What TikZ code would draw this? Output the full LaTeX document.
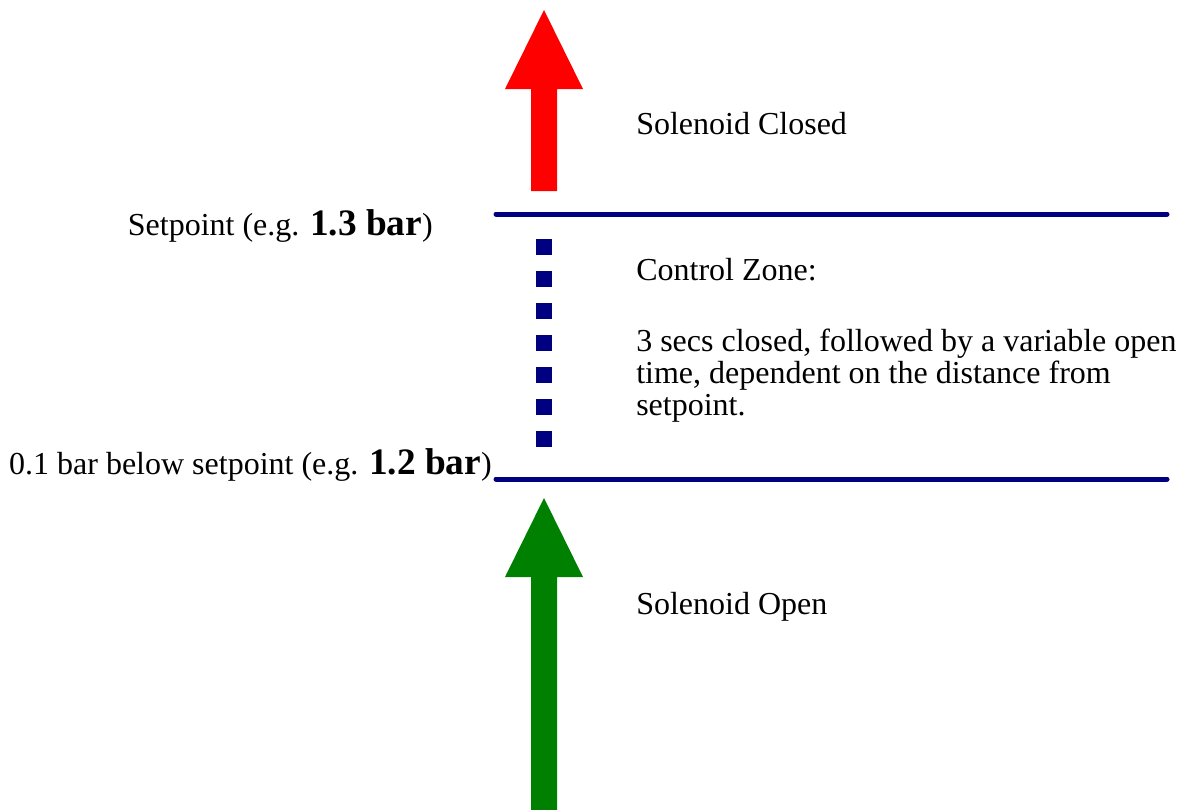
\documentclass[tikz,border=0pt]{standalone}
\usepackage{fontspec}
\setmainfont{Liberation Serif}
\definecolor{navyc}{RGB}{0,0,128}
\definecolor{redc}{RGB}{255,0,0}
\definecolor{greenc}{RGB}{0,128,0}
\begin{document}
\begin{tikzpicture}[x=0.75pt,y=-0.75pt,
  lab/.style={inner sep=0pt, font=\fontsize{24}{24}\selectfont},
  big/.style={},
  level/.style={draw=navyc, line width=3.75pt, line cap=round},
  sq/.style={fill=navyc}]
\useasboundingbox (0,0) rectangle (1185,810);
% red arrow
\fill[redc] (531,191) -- (531,89) -- (505,89) -- (544,10) -- (583,89) -- (557,89) -- (557,191) -- cycle;
% green arrow
\fill[greenc] (531,810) -- (531,577) -- (505,577) -- (544,498) -- (583,577) -- (557,577) -- (557,810) -- cycle;
% level lines
\coordinate (s1) at (496,214); \coordinate (s2) at (1167,214);
\coordinate (b1) at (496,479); \coordinate (b2) at (1167,479);
\draw[level] (s1) -- (s2);
\draw[level] (b1) -- (b2);
% dotted squares
\foreach \k in {0,...,6}{
  \fill[sq] (536,239+32*\k) rectangle (552,255+32*\k);
}
% labels
\node[lab, anchor=base west] (closed) at (636,134) {Solenoid Closed};
\node[lab, anchor=base east] (setp) at (433,235) {Setpoint (e.g. {\bfseries\fontsize{28}{28}\selectfont 1.3 bar})};
\node[lab, anchor=base east] (below) at (492,474) {0.1 bar below setpoint (e.g. {\bfseries\fontsize{28}{28}\selectfont 1.2 bar})};
\node[lab, anchor=base west] (cz) at (636,280) {Control Zone:};
\node[lab, anchor=base west] (cz1) at (636,351) {3 secs closed, followed by a variable open};
\node[lab, anchor=base west] (cz2) at (636,383) {time, dependent on the distance from};
\node[lab, anchor=base west] (cz3) at (636,415) {setpoint.};
\node[lab, anchor=base west] (open) at (636,614) {Solenoid Open};
\end{tikzpicture}
\end{document}
